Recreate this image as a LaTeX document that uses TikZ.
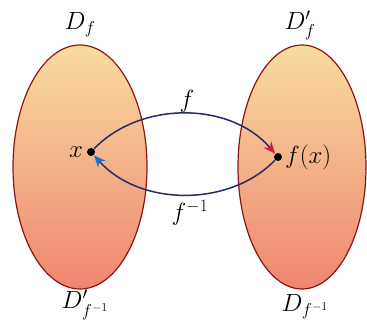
\documentclass[tikz,border=0pt]{standalone}
\usepackage{xcolor}
\usepackage{tikz}
\usepackage{amsmath}
\usetikzlibrary{arrows.meta, positioning, shapes.geometric}
\definecolor{setrim}{HTML}{8E1414}
\definecolor{settop}{HTML}{FADCA0}
\definecolor{setmid}{HTML}{F4B48E}
\definecolor{setbottom}{HTML}{EE8670}
\definecolor{mapnavy}{HTML}{262B66}
\definecolor{maptipred}{HTML}{C8203C}
\definecolor{maptipblue}{HTML}{1E6FD0}

\begin{document}
\begin{tikzpicture}[x=1pt, y=-1pt, font=\fontsize{24}{28}\selectfont, >=Stealth, thick]
    \useasboundingbox (0,0) rectangle (367,325);
    \node[ellipse, draw=setrim, line width=1.2pt, top color=settop, middle color=setmid, bottom color=setbottom, minimum width=134pt, minimum height=244pt, inner sep=0pt] (dom) at (80,167) {};
    \node[ellipse, draw=setrim, line width=1.2pt, top color=settop, middle color=setmid, bottom color=setbottom, minimum width=128pt, minimum height=244pt, inner sep=0pt] (ran) at (302,167) {};
    \node[circle, fill=black, minimum size=8pt, inner sep=0pt] (x) at (91,152) {};
    \node[circle, fill=black, minimum size=8pt, inner sep=0pt] (fx) at (278,157) {};
    \node[left=0pt of x] (xlab) {$x$};
    \node[right=-1pt of fx] (fxlab) {$f(x)$};
    \node (dlab) at (80,25) {$D_f$};
    \node (rlab) at (300,25) {$D'_f$};
    \node (dinv) at (85,305) {$D'_{f^{-1}}$};
    \node (rinv) at (305,307) {$D_{f^{-1}}$};
    \node (flab) at (187,101) {$f$};
    \node (finvlab) at (190,213) {$f^{-1}$};

    \draw[mapnavy, line width=1.5pt, -{Stealth[color=maptipred, length=12pt, width=10pt]}] (x) .. controls (140,101) and (230,101) .. (fx);
    \draw[mapnavy, line width=1.5pt, -{Stealth[color=maptipblue, length=12pt, width=10pt]}] (fx) .. controls (230,207) and (140,207) .. (x);
\end{tikzpicture}
\end{document}
